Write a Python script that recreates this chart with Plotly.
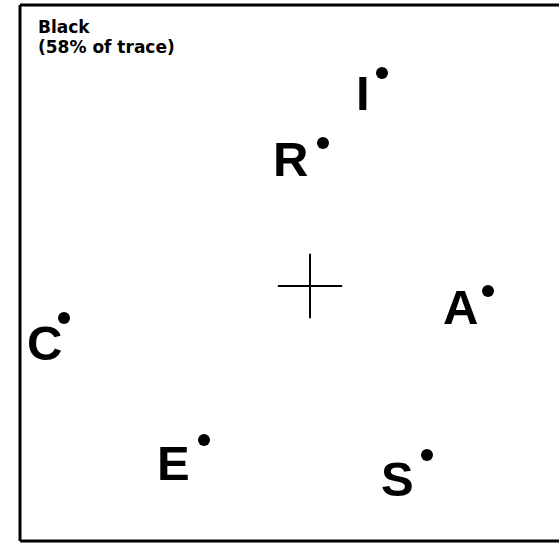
import plotly.graph_objects as go

# Data (configuration-space coordinates, centroid at origin)
labels = ["I", "R", "A", "C", "E", "S"]
x_vals = [0.72, 0.13, 1.78, -2.46, -1.06, 1.17]
y_vals = [2.13, 1.43, -0.05, -0.32, -1.54, -1.69]
centroid_x = [0.0]
centroid_y = [0.0]
title_lines = ["Black", "(58% of trace)"]

# label offsets (pixels) relative to each point: right edge / cap-centre
label_dx = [-10, -13, -8, 0, -12, -11]
label_dy = [-20, -16, -16, -25, -23, -24]

W, H = 559, 544
fig = go.Figure()

fig.add_trace(go.Scatter(
    x=centroid_x, y=centroid_y, mode="markers",
    marker=dict(symbol="cross-thin", size=46, color="black",
                line=dict(color="black", width=2)),
    hoverinfo="skip", showlegend=False))

fig.add_trace(go.Scatter(
    x=x_vals, y=y_vals, mode="markers",
    marker=dict(symbol="circle", size=12, color="black"),
    text=labels, hoverinfo="text", showlegend=False))

font_big = dict(family="Liberation Sans, Arial, sans-serif", size=49, color="black", weight="bold")
for lab, xv, yv, dx, dy in zip(labels, x_vals, y_vals, label_dx, label_dy):
    fig.add_annotation(x=xv, y=yv, text=lab, showarrow=False,
                       xanchor="right", yanchor="middle",
                       xshift=dx, yshift=dy, font=font_big)

font_small = dict(family="DejaVu Sans, sans-serif", size=17, color="black", weight="bold")
for i, line in enumerate(title_lines):
    fig.add_annotation(xref="paper", yref="paper", x=36 / W, y=1 - (27 + 20 * i) / H,
                       text=line, showarrow=False, xanchor="left", yanchor="middle",
                       font=font_small)

# frame: top, left, bottom edges
frame_line = dict(color="black", width=3)
fig.add_shape(type="line", xref="paper", yref="paper", x0=20 / W, x1=1.0, y0=1 - 5 / H, y1=1 - 5 / H, line=frame_line)
fig.add_shape(type="line", xref="paper", yref="paper", x0=20 / W, x1=20 / W, y0=1 - 5 / H, y1=1 - 541 / H, line=frame_line)
fig.add_shape(type="line", xref="paper", yref="paper", x0=20 / W, x1=1.0, y0=1 - 541 / H, y1=1 - 541 / H, line=frame_line)

fig.update_layout(
    width=W, height=H,
    margin=dict(l=0, r=0, t=0, b=0),
    paper_bgcolor="white", plot_bgcolor="white",
    xaxis=dict(range=[-3.10, 2.49], visible=False, fixedrange=True),
    yaxis=dict(range=[-2.58, 2.86], visible=False, fixedrange=True),
)

fig.write_html("out.html", config={"displayModeBar": False},
               post_script="document.body.style.margin='0';document.body.style.overflow='hidden';")
